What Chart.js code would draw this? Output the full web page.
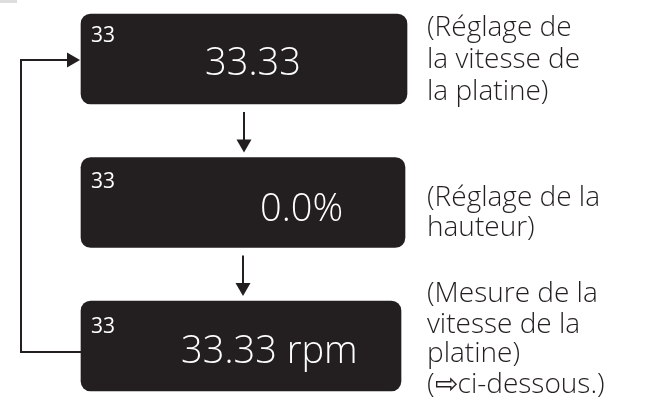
<!DOCTYPE html>
<html>
<head>
<meta charset="utf-8">
<script src="https://cdn.jsdelivr.net/npm/chart.js@4"></script>
<style>
  body { margin: 0; background: #fff; }
  #wrap { width: 647px; height: 405px; position: relative; }
</style>
</head>
<body>
<div id="wrap"><canvas id="flowChart"></canvas></div>
<script>
// Steps of the display cycle
const steps = ['Vitesse', 'Hauteur', 'Mesure'];
// Horizontal extent of each display box (x units = pixels)
const boxSpans = [[81, 407], [81, 405], [81, 401]];
// Small code shown in the top-left corner of each display
const stepCodes = ['33', '33', '33'];
// Main reading shown in each display
const displayValues = ['33.33', '0.0%', '33.33 rpm'];
// Caption to the right of each display
const captions = [
    ['(Réglage de', 'la vitesse de', 'la platine)'],
    ['(Réglage de la', 'hauteur)'],
    ['(Mesure de la', 'vitesse de la', 'platine)', '(⇨ci-dessous.)']
];

const ink = '#231f20';
const fontFamily = '"Open Sans", "DejaVu Sans", sans-serif';

// offsets from the box centre / left edge
const valueLeft = [124, 179, 100];
const valueBaseline = [16, 18, 17];
const codeBaseline = [-17, -15, -13];
const captionBaselines = [[-23, 9, 41], [3, 33], [-44, -13, 16, 47]];

function arrowHead(ctx, tipX, tipY, dir) {
    ctx.beginPath();
    if (dir === 'down') {
        ctx.moveTo(tipX, tipY);
        ctx.lineTo(tipX - 7.5, tipY - 13);
        ctx.lineTo(tipX + 7.5, tipY - 13);
    } else {
        ctx.moveTo(tipX, tipY);
        ctx.lineTo(tipX - 13, tipY - 7.5);
        ctx.lineTo(tipX - 13, tipY + 7.5);
    }
    ctx.closePath();
    ctx.fill();
}

const flowPlugin = {
    id: 'flow',
    afterDatasetsDraw(chart) {
        const ctx = chart.ctx;
        const bars = chart.getDatasetMeta(0).data;
        ctx.save();

        // little grey mark in the corner
        ctx.fillStyle = '#dddddd';
        ctx.fillRect(0, 0, 17, 3);

        ctx.strokeStyle = ink;
        ctx.fillStyle = ink;
        ctx.lineWidth = 2;

        // vertical arrows between boxes
        for (let i = 0; i < bars.length - 1; i++) {
            const a = bars[i], b = bars[i + 1];
            const cx = (a.base + a.x) / 2;
            const y0 = a.y + a.height / 2 + 8;
            const tip = b.y - b.height / 2 - 5;
            ctx.beginPath();
            ctx.moveTo(cx, y0);
            ctx.lineTo(cx, tip - 10);
            ctx.stroke();
            arrowHead(ctx, cx, tip, 'down');
        }

        // loop back from last box to first
        const first = bars[0], last = bars[bars.length - 1];
        const loopX = 21;
        ctx.beginPath();
        ctx.moveTo(last.base, last.y + 6);
        ctx.lineTo(loopX, last.y + 6);
        ctx.lineTo(loopX, first.y + 1);
        ctx.lineTo(first.base - 10, first.y + 1);
        ctx.stroke();
        arrowHead(ctx, first.base - 1, first.y + 1, 'right');

        // texts
        ctx.textBaseline = 'alphabetic';
        ctx.textAlign = 'left';
        bars.forEach((bar, i) => {
            ctx.fillStyle = '#ffffff';
            ctx.font = '400 21px ' + fontFamily;
            ctx.fillText(stepCodes[i], bar.base + 10, bar.y + codeBaseline[i]);
            ctx.font = '350 38px ' + fontFamily;
            ctx.fillText(displayValues[i], bar.base + valueLeft[i], bar.y + valueBaseline[i]);

            ctx.fillStyle = ink;
            ctx.font = '350 28px ' + fontFamily;
            captions[i].forEach((line, j) => {
                ctx.fillText(line, 427, bar.y + captionBaselines[i][j]);
            });
        });
        ctx.restore();
    }
};

new Chart(document.getElementById('flowChart'), {
    type: 'bar',
    data: {
        labels: steps,
        datasets: [{
            data: boxSpans,
            backgroundColor: ink,
            borderRadius: 10,
            borderSkipped: false,
            barThickness: 90,
            clip: false,
        }]
    },
    options: {
        indexAxis: 'y',
        responsive: true,
        maintainAspectRatio: false,
        animation: false,
        layout: { padding: { top: 59, bottom: 59, left: 0, right: 0 } },
        plugins: {
            legend: { display: false },
            tooltip: { enabled: false },
        },
        scales: {
            x: { type: 'linear', min: 0, max: 647, display: false },
            y: { type: 'category', offset: false, display: false },
        },
    },
    plugins: [flowPlugin]
});
</script>
</body>
</html>
